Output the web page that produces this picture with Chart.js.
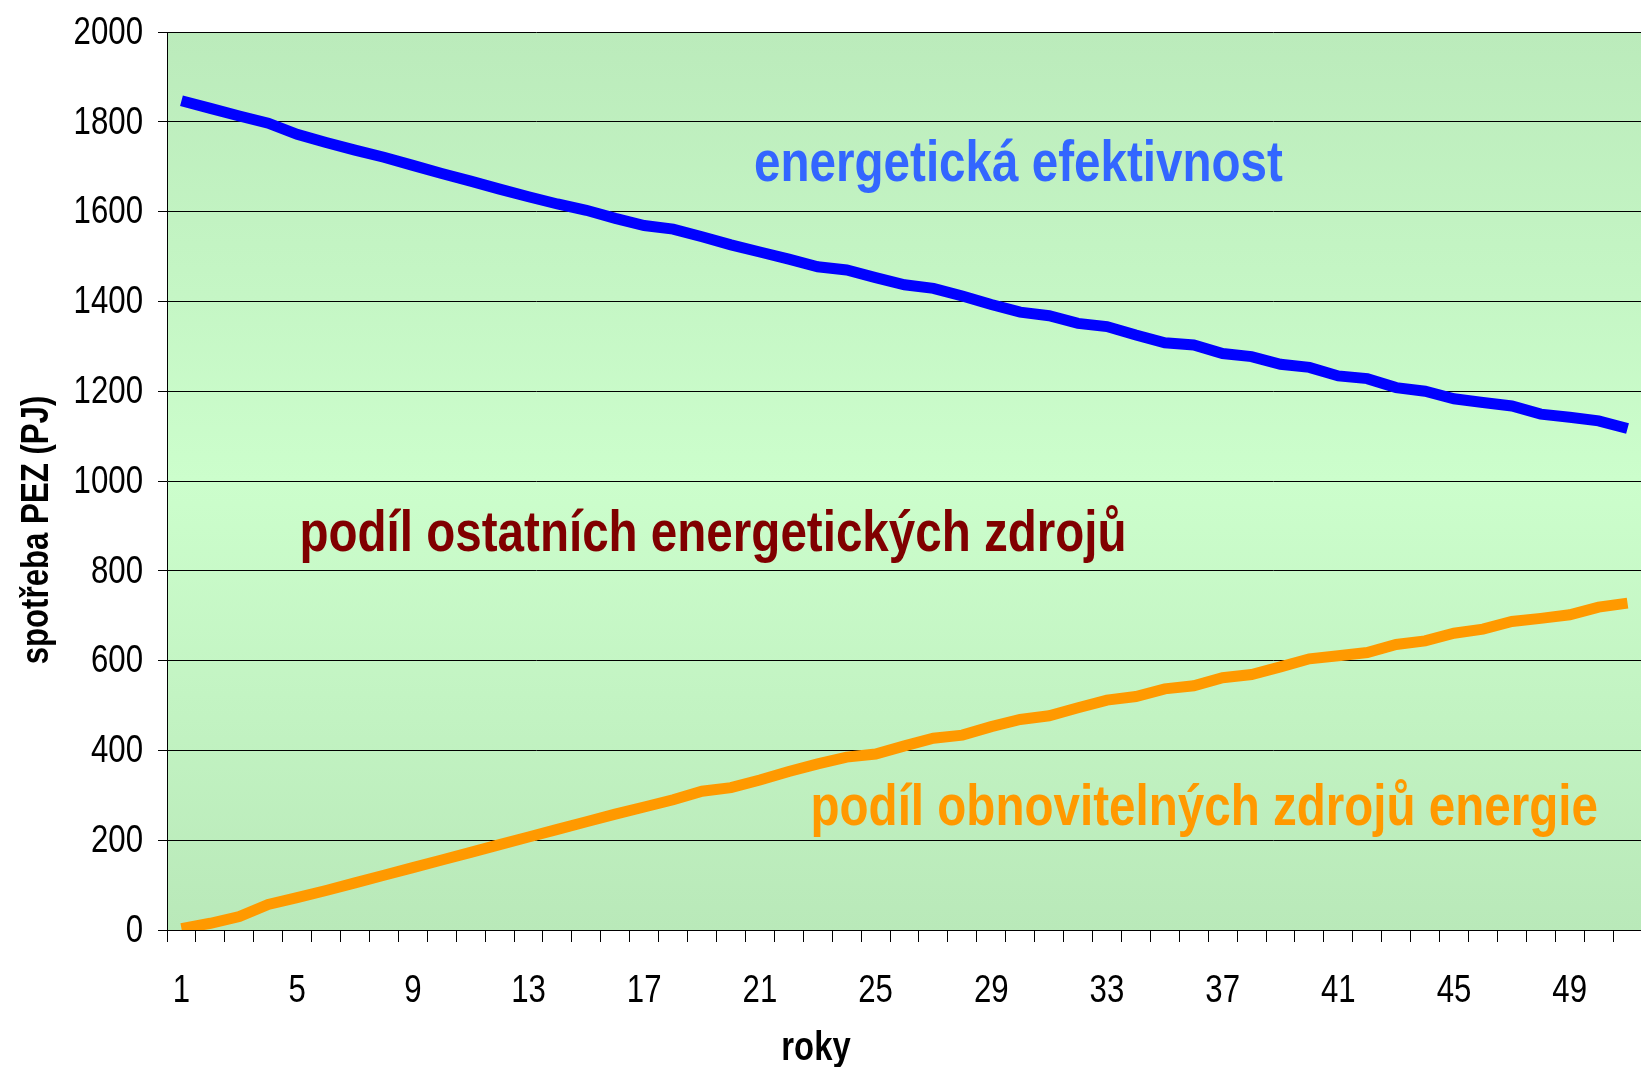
<!DOCTYPE html>
<html>
<head>
<meta charset="utf-8">
<script src="https://cdn.jsdelivr.net/npm/chart.js@4.4.0/dist/chart.umd.min.js"></script>
<style>
  html, body { margin: 0; padding: 0; background: #fff; overflow: hidden; }
  #wrap { width: 1645px; height: 1067px; }
</style>
</head>
<body>
<div id="wrap"><canvas id="chart" width="1645" height="1067"></canvas></div>
<script>
const roky = [1, 2, 3, 4, 5, 6, 7, 8, 9, 10, 11, 12, 13, 14, 15, 16, 17, 18, 19, 20,
  21, 22, 23, 24, 25, 26, 27, 28, 29, 30, 31, 32, 33, 34, 35, 36, 37, 38, 39, 40,
  41, 42, 43, 44, 45, 46, 47, 48, 49, 50, 51];

const efektivnost = [1847, 1830, 1813, 1797, 1772, 1754, 1737, 1721, 1703, 1685,
  1668, 1650, 1633, 1617, 1603, 1585, 1569, 1561, 1544, 1526,
  1510, 1494, 1477, 1470, 1453, 1437, 1429, 1412, 1393, 1376,
  1368, 1351, 1344, 1325, 1308, 1303, 1284, 1277, 1260, 1253,
  1234, 1228, 1208, 1200, 1183, 1175, 1167, 1149, 1142, 1134, 1117];

const obnovitelne = [3, 15, 30, 57, 72, 88, 105, 122, 139, 156,
  173, 190, 207, 224, 241, 258, 274, 290, 309, 317,
  334, 353, 370, 385, 392, 410, 427, 434, 453, 469,
  477, 495, 512, 520, 537, 544, 562, 569, 586, 604,
  611, 618, 636, 644, 661, 670, 687, 694, 702, 719, 728];

const yMin = 0;
const yMax = 2000;
const yStep = 200;

const yTitle = 'spotřeba PEZ (PJ)';
const xTitle = 'roky';

// popisky v grafu: pozice v souradnicich os (index roku, PJ)
const popisky = [
  { text: 'energetická efektivnost', x: 19.8, y: 1669, color: '#3366ff' },
  { text: 'podíl ostatních energetických zdrojů', x: 4.08, y: 845, color: '#800000' },
  { text: 'podíl obnovitelných zdrojů energie', x: 21.75, y: 234, color: '#ff9900' }
];

// Arial Narrow neni k dispozici, takze Liberation Sans zuzime rucne
const FONT = "'Liberation Sans', Arial, sans-serif";
const NARROW = 0.8;
Chart.defaults.font.family = FONT;
Chart.defaults.color = '#000';

function narrowText(ctx, text, x, y, font, align, color) {
  ctx.save();
  ctx.translate(x, y);
  ctx.scale(NARROW, 1);
  ctx.font = font;
  ctx.textAlign = align;
  ctx.textBaseline = 'middle';
  ctx.fillStyle = color || '#000';
  ctx.fillText(text, 0, 0);
  ctx.restore();
}

const plotBackground = {
  id: 'plotBackground',
  beforeDraw(chart) {
    const { ctx, chartArea: a } = chart;
    const g = ctx.createLinearGradient(0, a.top, 0, a.bottom);
    g.addColorStop(0, '#bbebbb');
    g.addColorStop(0.5, '#ccfecc');
    g.addColorStop(1, '#b9e9b9');
    ctx.save();
    ctx.fillStyle = g;
    ctx.fillRect(a.left, a.top, a.right - a.left, a.bottom - a.top);
    ctx.restore();
  }
};

const textLabels = {
  id: 'textLabels',
  afterDraw(chart) {
    const { ctx } = chart;
    const xs = chart.scales.x;
    const ys = chart.scales.y;

    // popisky os
    ys.ticks.forEach((t, i) => {
      narrowText(ctx, String(t.value), ys.right - 24, ys.getPixelForTick(i) + 1, '39px ' + FONT, 'right');
    });
    xs.ticks.forEach((t, i) => {
      if (i % 4 !== 0) return;
      narrowText(ctx, String(roky[i]), xs.getPixelForTick(i), xs.top + 61, '39px ' + FONT, 'center');
    });

    // nazvy os
    narrowText(ctx, xTitle, 816, 1049, 'bold 41px ' + FONT, 'center');
    ctx.save();
    ctx.translate(37, 530);
    ctx.rotate(-Math.PI / 2);
    narrowText(ctx, yTitle, 0, 0, 'bold 39px ' + FONT, 'center');
    ctx.restore();

    // popisky v ploše grafu
    popisky.forEach(p => {
      ctx.save();
      ctx.translate(xs.getPixelForValue(p.x), ys.getPixelForValue(p.y));
      ctx.scale(0.82, 1);
      ctx.font = 'bold 58px ' + FONT;
      ctx.textAlign = 'left';
      ctx.textBaseline = 'alphabetic';
      ctx.fillStyle = p.color;
      ctx.fillText(p.text, 0, 0);
      ctx.restore();
    });
  }
};

new Chart(document.getElementById('chart').getContext('2d'), {
  type: 'line',
  data: {
    labels: roky,
    datasets: [
      {
        label: 'energetická efektivnost',
        data: efektivnost,
        borderColor: '#0000ff',
        borderWidth: 11,
        pointRadius: 0,
        tension: 0,
        fill: false
      },
      {
        label: 'podíl obnovitelných zdrojů energie',
        data: obnovitelne,
        borderColor: '#ff9900',
        borderWidth: 11,
        pointRadius: 0,
        tension: 0,
        fill: false
      }
    ]
  },
  options: {
    responsive: false,
    animation: false,
    layout: { padding: { top: 32, right: 3, left: 0, bottom: 0 } },
    plugins: {
      legend: { display: false },
      tooltip: { enabled: false }
    },
    scales: {
      x: {
        offset: true,
        afterFit(scale) { scale.height = 137; },
        grid: {
          display: true,
          drawOnChartArea: false,
          drawTicks: true,
          tickLength: 12,
          offset: true,
          color: '#000'
        },
        border: { color: '#000', width: 1 },
        ticks: { display: false, autoSkip: false, maxRotation: 0 }
      },
      y: {
        min: yMin,
        max: yMax,
        afterFit(scale) { scale.width = 167; },
        grid: {
          color: '#000',
          lineWidth: 1,
          tickLength: 9
        },
        border: { color: '#000', width: 1 },
        ticks: { display: false, stepSize: yStep }
      }
    }
  },
  plugins: [plotBackground, textLabels]
});
</script>
</body>
</html>
